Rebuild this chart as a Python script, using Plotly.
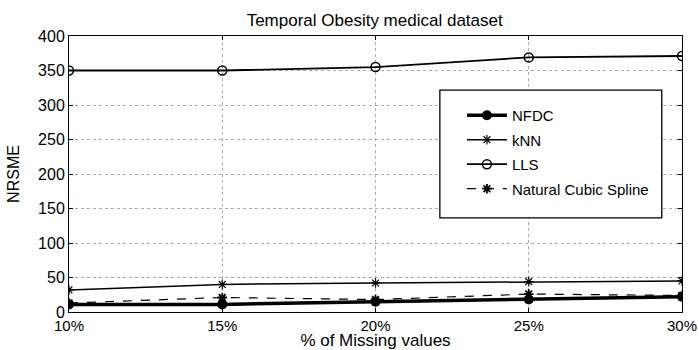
import plotly.graph_objects as go

x_vals = [10, 15, 20, 25, 30]
x_labels = ["10%", "15%", "20%", "25%", "30%"]
nfdc = [11, 11, 15, 18, 22]
knn = [32, 40, 42, 44, 45]
lls = [350, 350, 355, 369, 371]
spline = [13, 21, 18, 26, 24]
y_ticks = [0, 50, 100, 150, 200, 250, 300, 350, 400]

fig = go.Figure()
fig.add_trace(go.Scatter(x=x_vals, y=nfdc, name="NFDC", mode="lines+markers", legendgroup="a",
                         line=dict(color="black", width=3.5),
                         marker=dict(symbol="circle", size=10, color="black")))
fig.add_trace(go.Scatter(x=x_vals, y=knn, name="kNN", mode="lines+markers", legendgroup="b",
                         line=dict(color="black", width=1.5),
                         marker=dict(symbol="asterisk-open", size=8, line=dict(color="black", width=1.2))))
fig.add_trace(go.Scatter(x=x_vals, y=lls, name="LLS", mode="lines+markers", legendgroup="c",
                         line=dict(color="black", width=1.8),
                         marker=dict(symbol="circle-open", size=9, color="black", line=dict(width=1.5))))
fig.add_trace(go.Scatter(x=x_vals, y=spline, name="Natural Cubic Spline", mode="lines+markers", legendgroup="d",
                         line=dict(color="black", width=1.2, dash="dash"),
                         marker=dict(symbol="asterisk-open", size=8, line=dict(color="black", width=1.8))))

# legend frame
fig.add_shape(type="rect", xref="paper", yref="paper", x0=0.605, x1=0.967, y0=0.341, y1=0.804,
              line=dict(color="black", width=1.3), fillcolor="white", layer="above")

fig.update_layout(
    width=699, height=350,
    margin=dict(l=69, r=17, t=36, b=38, autoexpand=False),
    paper_bgcolor="white", plot_bgcolor="white",
    font=dict(family="Liberation Sans, Arial, sans-serif", color="black", size=14),
    title=dict(text="Temporal Obesity medical dataset", x=0.536, xanchor="center",
               y=0.943, yanchor="middle", font=dict(size=17)),
    legend=dict(x=0.641, y=0.772, xanchor="left", yanchor="top",
                borderwidth=0, bgcolor="rgba(0,0,0,0)",
                font=dict(size=15), tracegroupgap=2, itemwidth=40),
    showlegend=True,
)
fig.update_xaxes(range=[10, 30], tickvals=x_vals, ticktext=x_labels, automargin=False,
                 showgrid=True, gridcolor="#aaa", griddash="dot", gridwidth=1,
                 showline=True, linecolor="black", linewidth=1, mirror="ticks",
                 ticks="inside", ticklen=4, tickcolor="black",
                 title=dict(text="% of Missing values", standoff=1, font=dict(size=17)),
                 zeroline=False, tickfont=dict(size=15))
fig.update_yaxes(range=[0, 400], tickvals=y_ticks, automargin=False,
                 showgrid=True, gridcolor="#aaa", griddash="dot", gridwidth=1,
                 showline=True, linecolor="black", linewidth=1, mirror="ticks",
                 ticks="inside", ticklen=4, tickcolor="black",
                 title=dict(text="NRSME", standoff=14, font=dict(size=16)),
                 zeroline=False, tickfont=dict(size=16))

fig.write_html("out.html", config={"displayModeBar": False},
               post_script="document.body.style.margin='0';")
